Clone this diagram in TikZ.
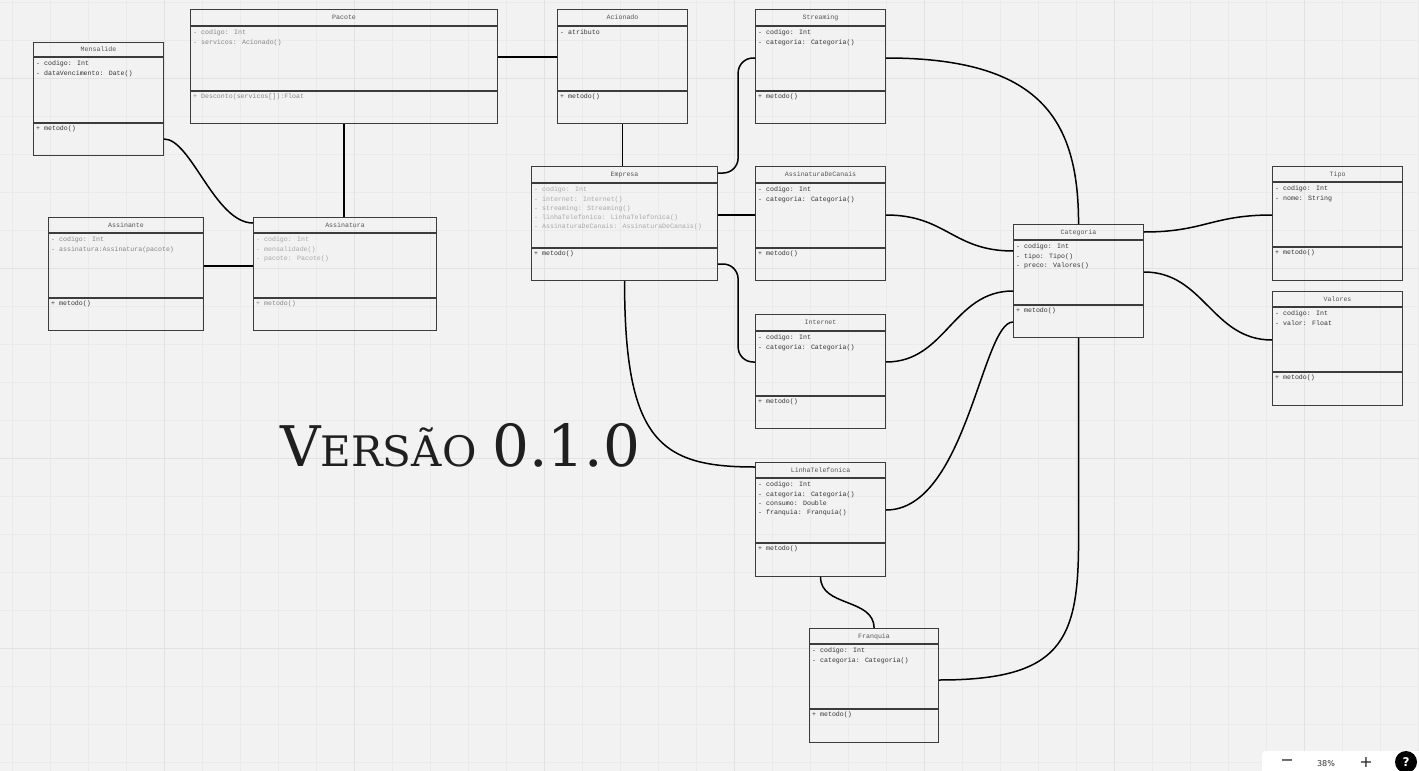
\documentclass[tikz,border=0pt]{standalone}
\usepackage{fontspec}
\newfontfamily\umlfont{Liberation Mono}
\newfontfamily\titlefont{DejaVu Serif}
\newfontfamily\uifont{DejaVu Sans}
\usetikzlibrary{calc}
\definecolor{bg}{HTML}{F2F2F2}
\definecolor{gminor}{HTML}{EAEAEA}
\definecolor{gmajor}{HTML}{E2E2E2}
\definecolor{boxline}{HTML}{3C3C3C}
\definecolor{tdark}{HTML}{333333}
\definecolor{tmid}{HTML}{858585}
\definecolor{tlight}{HTML}{A8A8A8}
\definecolor{ttitle}{HTML}{555555}
\tikzset{
  ubox/.style={draw=boxline, line width=1.1pt, inner sep=0pt, rectangle},
  uline/.style={draw=boxline, line width=1.1pt},
  utitle/.style={anchor=base, inner sep=0pt, text=ttitle, font=\umlfont\fontsize{6.6}{8}\selectfont},
  uattr/.style={anchor=north west, inner sep=0pt, align=left, text=tdark, font=\umlfont\fontsize{6.6}{9.2}\selectfont},
  conn/.style={draw=black, line width=1.5pt},
  gridminor/.style={draw=gminor, line width=0.8pt},
  gridmajor/.style={draw=gmajor, line width=1pt}
}
\newcommand\umlbox[8]{%
  \node[ubox, minimum width=#4pt, minimum height=#5pt, anchor=north west] (#1) at (#2,#3) {};
  \draw[uline] ($(#1.north west)+(0,#6)$) -- ($(#1.north east)+(0,#6)$);
  \draw[uline] ($(#1.north west)+(0,#7)$) -- ($(#1.north east)+(0,#7)$);
  \node[utitle] (#1-t) at ($(#1.north)+(0,{#6/2+2.4})$) {#8};
}
\newcommand\umlattr[4]{% name, hd, color, text
  \node[uattr, text=#3] (#1-a) at ($(#1.north west)+(3,{#2+4})$) {#4};
}
\newcommand\umlmeth[4]{% name, dv, color, text
  \node[uattr, text=#3] (#1-m) at ($(#1.north west)+(3,{#2+2.7})$) {#4};
}
\begin{document}
\begin{tikzpicture}[x=1pt,y=-1pt]
\useasboundingbox (0,0) rectangle (1419,771);
\fill[bg] (0,0) rectangle (1419,771);
% grid
\foreach \i in {0,...,37} { \draw[gridminor] ({12.3+38*\i},0) -- ({12.3+38*\i},771); }
\foreach \j in {0,...,20} { \draw[gridminor] (0,{2.3+38*\j}) -- (1419,{2.3+38*\j}); }
\foreach \i in {0,...,6} { \draw[gridmajor] ({164.3+190*\i},0) -- ({164.3+190*\i},771); }
\foreach \j in {0,...,3} { \draw[gridmajor] (0,{78.3+190*\j}) -- (1419,{78.3+190*\j}); }

% classes
\umlbox{mens}{33}{42}{130}{113}{15}{81}{Mensalide}
\umlattr{mens}{15}{tdark}{- codigo: Int\\- dataVencimento: Date()}
\umlmeth{mens}{81}{tdark}{+ metodo()}

\umlbox{pacote}{190}{9}{307}{114}{17}{82}{Pacote}
\umlattr{pacote}{17}{tmid}{- codigo: Int\\- servicos: Acionado()}
\umlmeth{pacote}{82}{tmid}{+ Desconto(servicos[]):Float}

\umlbox{acion}{557}{9}{130}{114}{17}{82}{Acionado}
\umlattr{acion}{17}{tdark}{- atributo}
\umlmeth{acion}{82}{tdark}{+ metodo()}

\umlbox{stream}{755}{9}{130}{114}{17}{82}{Streaming}
\umlattr{stream}{17}{tdark}{- codigo: Int\\- categoria: Categoria()}
\umlmeth{stream}{82}{tdark}{+ metodo()}

\umlbox{assinante}{48}{217}{155}{113}{16}{81}{Assinante}
\umlattr{assinante}{16}{tmid}{- codigo: Int\\- assinatura:Assinatura(pacote)}
\umlmeth{assinante}{81}{tdark}{+ metodo()}

\umlbox{assinatura}{253}{217}{183}{113}{16}{81}{Assinatura}
\umlattr{assinatura}{16}{tlight}{- codigo: Int\\- mensalidade()\\- pacote: Pacote()}
\umlmeth{assinatura}{81}{tmid}{+ metodo()}

\umlbox{empresa}{531}{166}{186}{114}{17}{82}{Empresa}
\umlattr{empresa}{17}{tlight}{- codigo: Int\\- internet: Internet()\\- streaming: Streaming()\\- linhaTelefonica: LinhaTelefonica()\\- AssinaturaDeCanais: AssinaturaDeCanais()}
\umlmeth{empresa}{82}{tdark}{+ metodo()}

\umlbox{canais}{755}{166}{130}{114}{17}{82}{AssinaturaDeCanais}
\umlattr{canais}{17}{tdark}{- codigo: Int\\- categoria: Categoria()}
\umlmeth{canais}{82}{tdark}{+ metodo()}

\umlbox{internet}{755}{314}{130}{114}{17}{82}{Internet}
\umlattr{internet}{17}{tdark}{- codigo: Int\\- categoria: Categoria()}
\umlmeth{internet}{82}{tdark}{+ metodo()}

\umlbox{linha}{755}{462}{130}{114}{16}{81}{LinhaTelefonica}
\umlattr{linha}{16}{tdark}{- codigo: Int\\- categoria: Categoria()\\- consumo: Double\\- franquia: Franquia()}
\umlmeth{linha}{81}{tdark}{+ metodo()}

\umlbox{franquia}{809}{628}{129}{114}{16}{81}{Franquia}
\umlattr{franquia}{16}{tdark}{- codigo: Int\\- categoria: Categoria()}
\umlmeth{franquia}{81}{tdark}{+ metodo()}

\umlbox{categoria}{1013}{224}{130}{113}{16}{81}{Categoria}
\umlattr{categoria}{16}{tdark}{- codigo: Int\\- tipo: Tipo()\\- preco: Valores()}
\umlmeth{categoria}{81}{tdark}{+ metodo()}

\umlbox{tipo}{1272}{166}{130}{114}{16}{81}{Tipo}
\umlattr{tipo}{16}{tdark}{- codigo: Int\\- nome: String}
\umlmeth{tipo}{81}{tdark}{+ metodo()}

\umlbox{valores}{1272}{291}{130}{114}{16}{81}{Valores}
\umlattr{valores}{16}{tdark}{- codigo: Int\\- valor: Float}
\umlmeth{valores}{81}{tdark}{+ metodo()}

% connectors
\draw[conn] ($(mens.north east)+(0,97)$) .. controls +(27,0) and +(-38,0) .. ($(assinatura.north west)+(0,6)$);
\draw[conn] (pacote.south) -- (pacote.south |- assinatura.north);
\draw[conn] ($(assinante.north east)+(0,49)$) -- ($(assinatura.north west)+(0,49)$);
\draw[conn] ($(pacote.north east)+(0,48)$) -- ($(acion.north west)+(0,48)$);
\draw[conn] (acion.south) -- (acion.south |- empresa.north);
\draw[conn, rounded corners=15pt] ($(empresa.north east)+(0,7)$) -- ++(20,0) |- ($(stream.north west)+(0,49)$);
\draw[conn] ($(empresa.north east)+(0,49)$) -- ($(canais.north west)+(0,49)$);
\draw[conn, rounded corners=15pt] ($(empresa.north east)+(0,98)$) -- ++(20,0) |- ($(internet.north west)+(0,48)$);
\draw[conn] (empresa.south) .. controls +(0,160) and +(-95,0) .. ($(linha.north west)+(0,5)$);
\draw[conn] ($(stream.north east)+(0,49)$) .. controls +(155,0) and +(0,-104) .. (categoria.north);
\draw[conn] ($(canais.north east)+(0,49)$) .. controls +(60,0) and +(-60,0) .. ($(categoria.north west)+(0,27)$);
\draw[conn] ($(internet.north east)+(0,48)$) .. controls +(60,0) and +(-60,0) .. ($(categoria.north west)+(0,67)$);
\draw[conn] ($(linha.north east)+(0,48)$) .. controls +(80,0) and +(-31,0) .. ($(categoria.north west)+(0,98)$);
\draw[conn] ($(franquia.north east)+(0,52)$) .. controls +(122,0) and +(0,100) .. ($(categoria.south)+(0,203)$) -- (categoria.south);
\draw[conn] (linha.south) .. controls +(0,30) and +(0,-30) .. (franquia.north);
\draw[conn] ($(categoria.north east)+(0,8)$) .. controls +(60,0) and +(-60,0) .. ($(tipo.north west)+(0,49)$);
\draw[conn] ($(categoria.north east)+(0,48)$) .. controls +(60,0) and +(-60,0) .. ($(valores.north west)+(0,49)$);

% title
\node[anchor=base west, inner sep=0pt, text=black!88, font=\titlefont] (versao) at (280,466)
  {{\fontsize{56}{56}\selectfont V}{\fontsize{42}{42}\selectfont ERSÃO}\hspace{16pt}{\fontsize{58}{58}\selectfont 0.1.0}};

% zoom widget (at the bottom edge)
\fill[white, rounded corners=4pt] (1262,751) rectangle (1440,800);
\node[inner sep=0pt, font=\uifont\fontsize{16}{16}\selectfont, text=black!85] (uiminus) at (1287,763) {−};
\node[inner sep=0pt, font=\uifont\fontsize{8}{8}\selectfont, text=black!80] (uipct) at (1326,764) {38\%};
\node[inner sep=0pt, font=\uifont\fontsize{16}{16}\selectfont, text=black!85] (uiplus) at (1366,762) {+};
\node[circle, fill=black, inner sep=0pt, minimum size=22pt, text=white, font=\uifont\bfseries\fontsize{12}{12}\selectfont] (uihelp) at (1406,762) {?};
\end{tikzpicture}
\end{document}
